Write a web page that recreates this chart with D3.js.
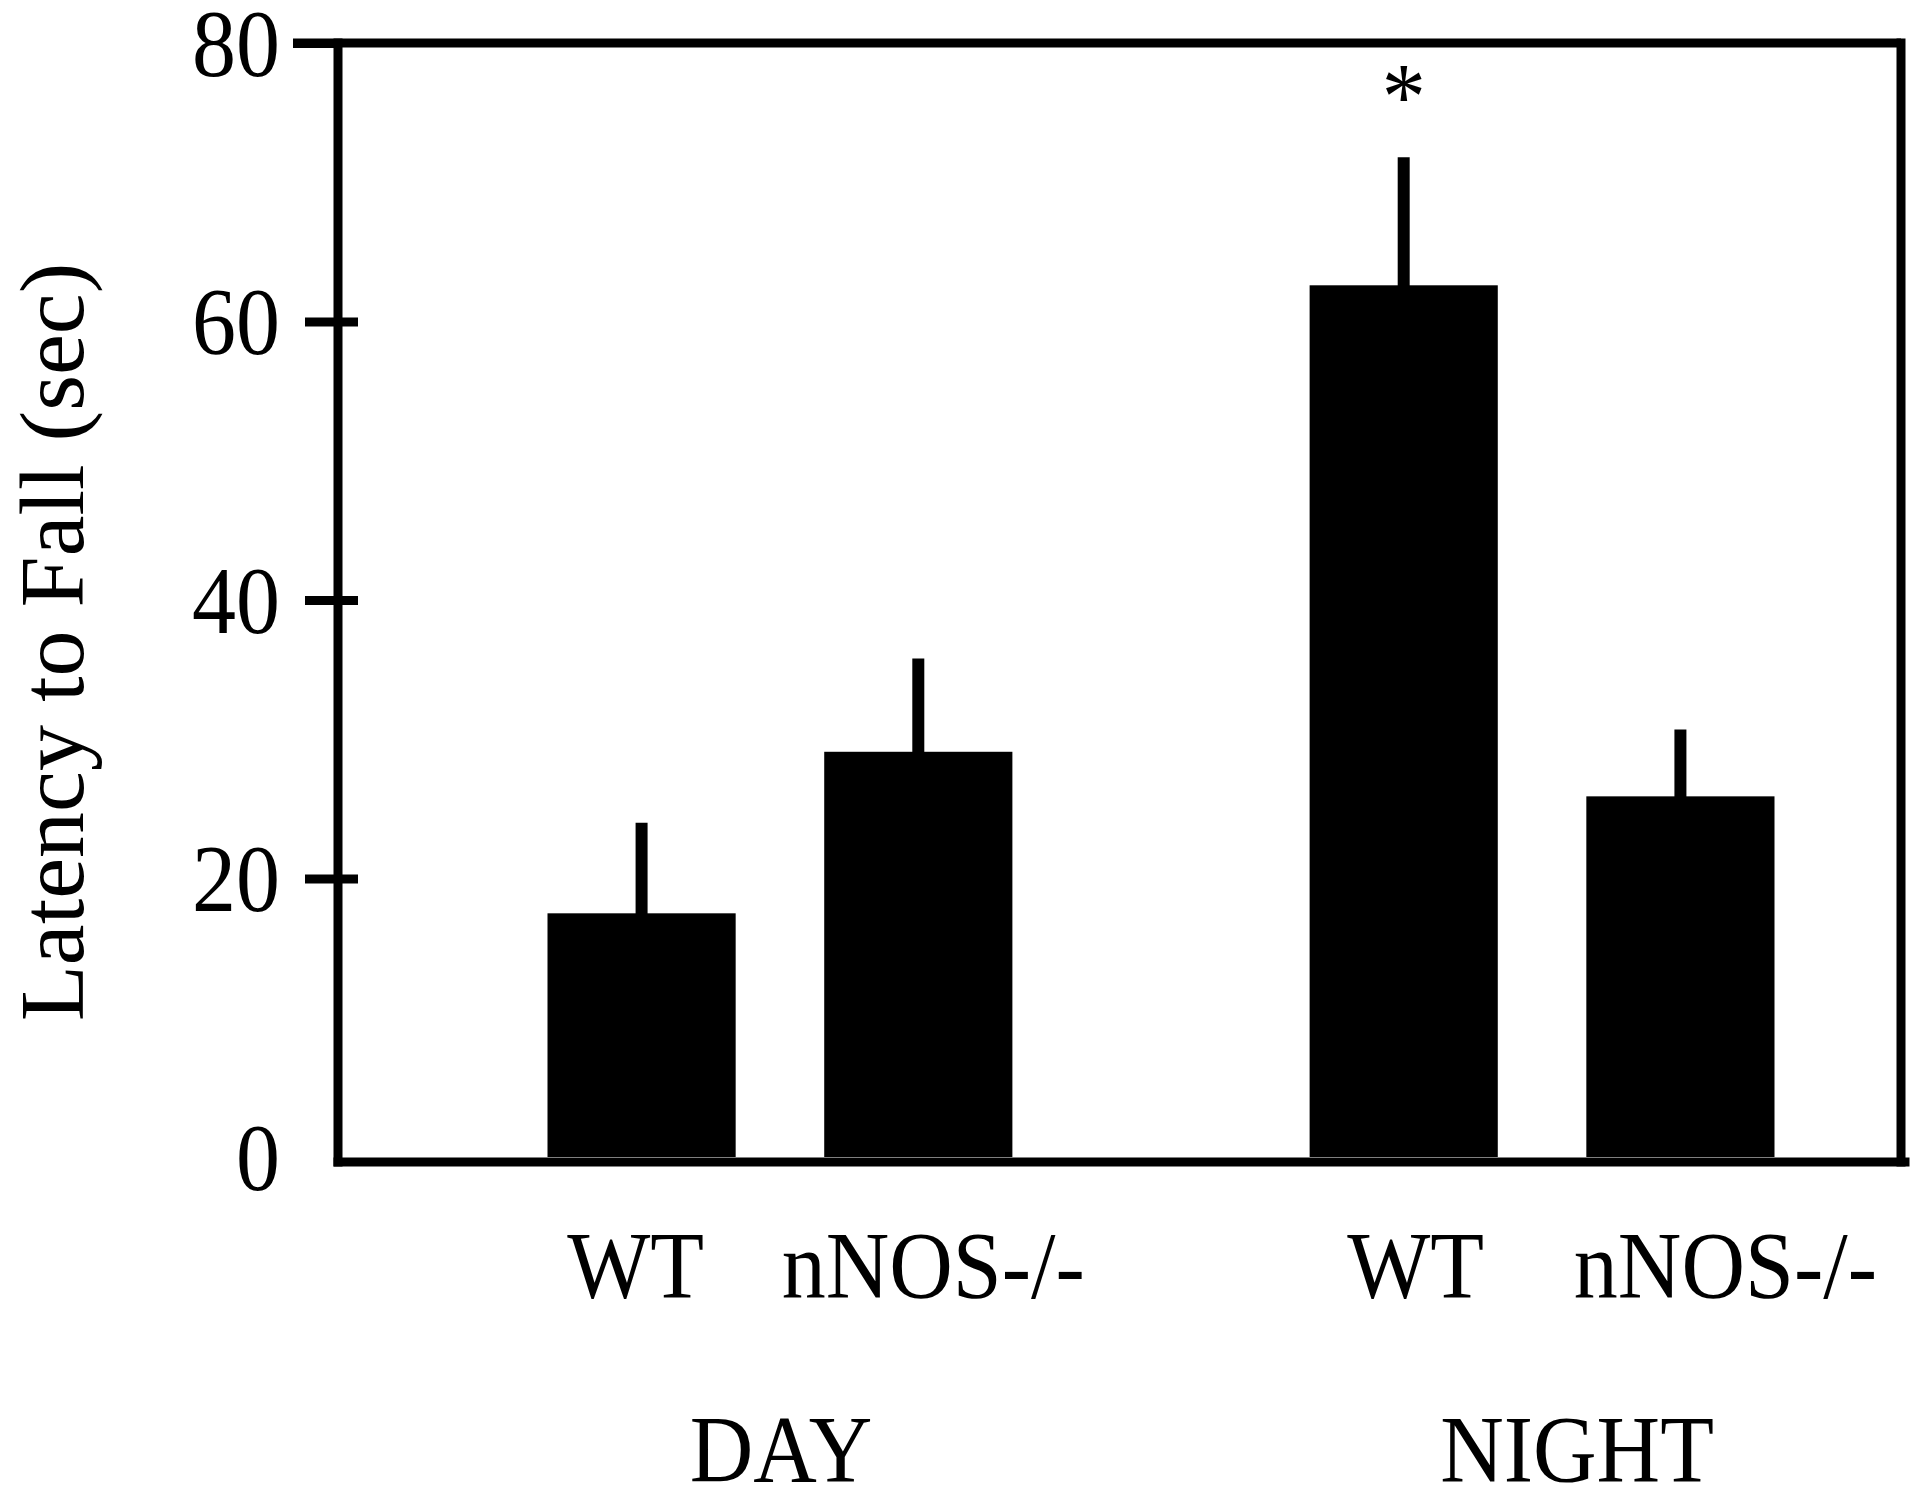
<!DOCTYPE html>
<html>
<head>
<meta charset="utf-8">
<script src="https://cdn.jsdelivr.net/npm/d3@7"></script>
<style>
  html, body { margin: 0; padding: 0; background: #fff; }
  svg { display: block; }
  text { font-family: "Liberation Serif", "Times New Roman", serif; fill: #000; }
</style>
</head>
<body>
<svg id="chart" width="1920" height="1496"></svg>
<script>
// ---- data ----
const groups = ["DAY", "NIGHT"];
const genotypes = ["WT", "nNOS-/-"];
const means = [17.5, 29.1, 62.6, 25.9];       // DAY WT, DAY nNOS-/-, NIGHT WT, NIGHT nNOS-/-
const errors = [6.5, 6.7, 9.2, 4.8];          // upper error (SEM)
const significant = [false, false, true, false];
const yTicks = [0, 20, 40, 60, 80];
const yTitle = "Latency to Fall (sec)";

// ---- layout ----
const svg = d3.select("#chart");
const axisX = 338, rightX = 1901, topY = 43, baseY = 1162;
const lw = 9;
const textScaleY = 1.08;

const y = d3.scaleLinear().domain([0, 80]).range([1157, 43]);
const xOuter = d3.scaleBand().domain(groups).range([547.5, 1774.5]).paddingInner(0.39).paddingOuter(0);
const xInner = d3.scaleBand().domain(genotypes).range([0, xOuter.bandwidth()]).paddingInner(0.32).paddingOuter(0);

const rows = [];
groups.forEach((g, gi) => genotypes.forEach((t, ti) => {
  const i = gi * genotypes.length + ti;
  rows.push({ group: g, geno: t, mean: means[i], err: errors[i], sig: significant[i], i });
}));
const bx = d => xOuter(d.group) + xInner(d.geno);
const bc = d => bx(d) + xInner.bandwidth() / 2;

// bars
svg.append("g").selectAll("rect").data(rows).join("rect")
  .attr("x", bx)
  .attr("width", xInner.bandwidth())
  .attr("y", d => y(d.mean))
  .attr("height", d => y(0) - y(d.mean))
  .attr("fill", "#000");

// error bars (upper only)
svg.append("g").selectAll("line").data(rows).join("line")
  .attr("x1", bc).attr("x2", bc)
  .attr("y1", d => y(d.mean) + 2)
  .attr("y2", d => y(d.mean + d.err))
  .attr("stroke", "#000").attr("stroke-width", 12);

// significance asterisk
svg.append("g").selectAll("text").data(rows.filter(d => d.sig)).join("text")
  .attr("transform", d => `translate(${bc(d)},${y(d.mean + d.err) - 28}) scale(1,${textScaleY})`)
  .attr("text-anchor", "middle")
  .attr("font-size", 88)
  .text("*");

// frame
const frame = svg.append("g").attr("stroke", "#000").attr("stroke-width", lw).attr("stroke-linecap", "square");
frame.append("line").attr("x1", 293).attr("x2", rightX).attr("y1", topY).attr("y2", topY).attr("stroke-linecap", "butt");
frame.append("line").attr("x1", axisX).attr("x2", axisX).attr("y1", topY).attr("y2", baseY);
frame.append("line").attr("x1", axisX).attr("x2", rightX + 4).attr("y1", baseY).attr("y2", baseY);
frame.append("line").attr("x1", rightX).attr("x2", rightX).attr("y1", topY).attr("y2", baseY);

// y axis with crossing ticks
const yAxis = svg.append("g").attr("transform", `translate(${axisX},0)`)
  .call(d3.axisLeft(y).tickValues(yTicks).tickFormat(d3.format("d")).tickSizeOuter(0));
yAxis.select(".domain").remove();
yAxis.selectAll(".tick line")
  .attr("stroke", "#000").attr("stroke-width", lw)
  .attr("x1", d => d === 80 ? -45 : -33)
  .attr("x2", d => d === 80 ? 0 : 20)
  .style("display", d => d === 0 ? "none" : null);
yAxis.selectAll(".tick text")
  .attr("x", -58)
  .attr("dy", "0.34em")
  .attr("text-anchor", "end")
  .attr("font-size", 88)
  .attr("fill", "#000")
  .style("font-family", '"Liberation Serif", "Times New Roman", serif')
  .attr("transform", `scale(1,${textScaleY})`);

// y title
svg.append("text")
  .attr("transform", "translate(83,642) rotate(-90)")
  .attr("text-anchor", "middle")
  .attr("font-size", 92)
  .text(yTitle);

// category labels
const labelNudge = [-6, 15, 12, 45];
svg.append("g").selectAll("text").data(rows).join("text")
  .attr("transform", d => `translate(${bc(d) + labelNudge[d.i]},1298) scale(1,${textScaleY})`)
  .attr("text-anchor", "middle")
  .attr("font-size", 88)
  .text(d => d.geno);

// group labels
const groupNudge = [1, 35];
svg.append("g").selectAll("text").data(groups).join("text")
  .attr("transform", (g, i) => `translate(${xOuter(g) + xOuter.bandwidth() / 2 + groupNudge[i]},1482) scale(1,${textScaleY})`)
  .attr("text-anchor", "middle")
  .attr("font-size", 88)
  .text(g => g);
</script>
</body>
</html>
